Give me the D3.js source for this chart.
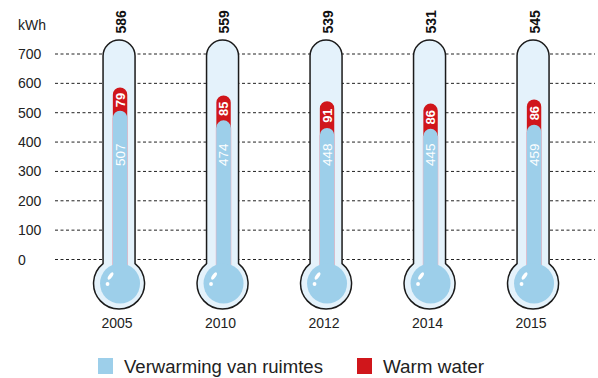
<!DOCTYPE html>
<html>
<head>
<meta charset="utf-8">
<script src="https://cdn.jsdelivr.net/npm/d3@7"></script>
<style>
  html, body { margin: 0; padding: 0; background: #fff; }
  svg { display: block; }
  text { font-family: "Liberation Sans", Arial, sans-serif; }
</style>
</head>
<body>
<svg id="chart" width="598" height="378"></svg>
<script>
// Energy use per household (kWh), split into space heating and hot water
const years = ["2005", "2010", "2012", "2014", "2015"];
const heating = [507, 474, 448, 445, 459];
const hotWater = [79, 85, 91, 86, 86];
const totals = [586, 559, 539, 531, 545];
const yTicks = [0, 100, 200, 300, 400, 500, 600, 700];
const seriesNames = ["Verwarming van ruimtes", "Warm water"];

const BLUE = "#9dcfea";
const RED = "#d0161b";
const GLASS = "#e4f2fb";
const INK = "#1b1b1b";

const svg = d3.select("#chart");

const y = d3.scaleLinear().domain([0, 700]).range([259.5, 54]);
const x = d3.scaleBand().domain(years).range([67.3, 584.8]).paddingInner(0).paddingOuter(0);
const cx = d => x(d) + x.bandwidth() / 2;

// dashed grid lines
const grid = svg.append("g");
yTicks.forEach(t => {
  grid.append("line")
    .attr("x1", 55).attr("x2", 595)
    .attr("y1", y(t)).attr("y2", y(t))
    .attr("stroke", "#222").attr("stroke-width", 1)
    .attr("stroke-dasharray", "3,2.5");
});

// y axis labels, left aligned
const yAxis = svg.append("g");
yTicks.forEach(t => {
  yAxis.append("text")
    .attr("x", 18).attr("y", y(t))
    .attr("dominant-baseline", "central")
    .attr("font-size", 14).attr("fill", "#222")
    .text(t);
});
yAxis.append("text")
  .attr("x", 18).attr("y", 25)
  .attr("dominant-baseline", "central")
  .attr("font-size", 14).attr("fill", "#222")
  .text("kWh");

// thermometer geometry
const tubeHalf = 16, tubeTop = 40;
const bulbCy = 283.5, bulbR = 25.5, innerR = 20;
const colHalf = 7.2;

function glassPath(c) {
  const joinDy = Math.sqrt(bulbR * bulbR - tubeHalf * tubeHalf);
  const jy = bulbCy - joinDy;
  const p = d3.path();
  p.moveTo(c - tubeHalf, jy);
  p.lineTo(c - tubeHalf, tubeTop + tubeHalf);
  p.arc(c, tubeTop + tubeHalf, tubeHalf, Math.PI, 0);
  p.lineTo(c + tubeHalf, jy);
  const a0 = Math.atan2(-joinDy, tubeHalf);
  const a1 = Math.atan2(-joinDy, -tubeHalf);
  p.arc(c, bulbCy, bulbR, a0, a1 + 2 * Math.PI, false);
  p.closePath();
  return p.toString();
}

function pillPath(c, top, bottom, half) {
  const p = d3.path();
  p.moveTo(c - half, bottom);
  p.lineTo(c - half, top + half);
  p.arc(c, top + half, half, Math.PI, 0);
  p.lineTo(c + half, bottom);
  p.closePath();
  return p.toString();
}

const labelAnchor = 357; // level at which the heating value sits

years.forEach((yr, i) => {
  const c = cx(yr);
  const cc = c + 1; // liquid column sits a touch right of the glass centre
  const g = svg.append("g");

  g.append("path").attr("d", glassPath(c))
    .attr("fill", GLASS).attr("stroke", INK).attr("stroke-width", 1.5)
    .attr("stroke-linejoin", "round");

  // hot water on top of heating: red pill up to total, blue pill up to heating
  const total = heating[i] + hotWater[i];
  g.append("path").attr("d", pillPath(cc, y(total), bulbCy, colHalf))
    .attr("fill", RED);
  // faint pink rim along the heating column
  g.append("rect")
    .attr("x", cc - colHalf - 0.6).attr("width", 2 * colHalf + 1.2)
    .attr("y", y(heating[i]) + colHalf).attr("height", bulbCy - y(heating[i]) - colHalf)
    .attr("fill", "#e7b7c6");
  g.append("path").attr("d", pillPath(cc, y(heating[i]), bulbCy, colHalf))
    .attr("fill", BLUE);

  g.append("circle").attr("cx", cc).attr("cy", bulbCy).attr("r", innerR)
    .attr("fill", BLUE);

  // glass highlight
  g.append("ellipse")
    .attr("cx", c - 8.5).attr("cy", bulbCy - 7.5)
    .attr("rx", 1.8).attr("ry", 4.2)
    .attr("transform", `rotate(35,${c - 8.5},${bulbCy - 7.5})`)
    .attr("fill", "#fff");
  g.append("circle").attr("cx", c - 11.5).attr("cy", bulbCy + 0.5).attr("r", 1.9)
    .attr("fill", "#fff");

  // values
  const yBlue = y(labelAnchor);
  g.append("text")
    .attr("transform", `translate(${cc},${yBlue}) rotate(-90)`)
    .attr("text-anchor", "middle").attr("dominant-baseline", "central")
    .attr("font-size", 13.5).attr("fill", "#fff")
    .text(heating[i]);

  const yRed = (y(total) + y(heating[i])) / 2 + 1;
  g.append("text")
    .attr("transform", `translate(${cc},${yRed}) rotate(-90)`)
    .attr("text-anchor", "middle").attr("dominant-baseline", "central")
    .attr("font-size", 13).attr("font-weight", "bold").attr("fill", "#fff")
    .text(hotWater[i]);

  g.append("text")
    .attr("transform", `translate(${c + 1.5},33.5) rotate(-90)`)
    .attr("text-anchor", "start").attr("dominant-baseline", "central")
    .attr("font-size", 14).attr("font-weight", "bold").attr("fill", "#111")
    .text(totals[i]);

  g.append("text")
    .attr("x", c - 2).attr("y", 328)
    .attr("text-anchor", "middle")
    .attr("font-size", 14).attr("fill", "#222")
    .text(yr);
});

// legend
const legend = svg.append("g");
const legendItems = [
  { name: seriesNames[0], color: BLUE, x: 98, w: 199 },
  { name: seriesNames[1], color: RED, x: 357, w: 101 }
];
legendItems.forEach(it => {
  legend.append("rect").attr("x", it.x).attr("y", 358).attr("width", 15).attr("height", 16)
    .attr("fill", it.color);
  const t = legend.append("text")
    .attr("x", it.x + 26).attr("y", 373)
    .attr("font-family", "'DejaVu Sans Condensed', 'DejaVu Sans', sans-serif")
    .attr("font-size", 21).attr("fill", "#222")
    .text(it.name);
  const len = t.node().getComputedTextLength();
  t.attr("font-size", 21 * it.w / len);
});
</script>
</body>
</html>
